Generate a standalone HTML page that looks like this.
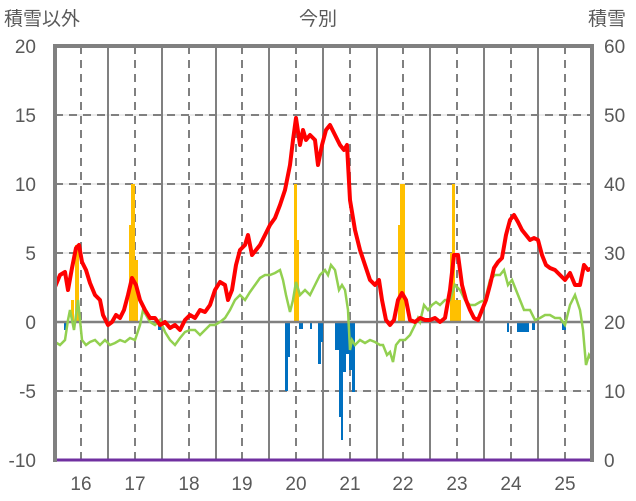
<!DOCTYPE html><html><head><meta charset="utf-8"><style>body{margin:0;background:#fff}svg{display:block}text{font-family:"Liberation Sans","Noto Sans CJK JP",sans-serif;fill:#595959;font-size:19px}</style></head><body>
<svg width="636" height="501" xmlns="http://www.w3.org/2000/svg">
<g stroke="#d9d9d9" stroke-width="1"><line x1="55" y1="115" x2="592" y2="115"/><line x1="55" y1="184" x2="592" y2="184"/><line x1="55" y1="253" x2="592" y2="253"/><line x1="55" y1="391" x2="592" y2="391"/></g>
<g stroke="#808080" stroke-width="2" stroke-dasharray="8,6"><line x1="55" y1="115" x2="592" y2="115"/><line x1="55" y1="184" x2="592" y2="184"/><line x1="55" y1="253" x2="592" y2="253"/><line x1="55" y1="391" x2="592" y2="391"/>
<line x1="81" y1="46" x2="81" y2="460"/><line x1="135" y1="46" x2="135" y2="460"/><line x1="189" y1="46" x2="189" y2="460"/><line x1="242" y1="46" x2="242" y2="460"/><line x1="296" y1="46" x2="296" y2="460"/><line x1="350" y1="46" x2="350" y2="460"/><line x1="403" y1="46" x2="403" y2="460"/><line x1="457" y1="46" x2="457" y2="460"/><line x1="511" y1="46" x2="511" y2="460"/><line x1="565" y1="46" x2="565" y2="460"/></g>
<g stroke="#808080" stroke-width="2"><line x1="108" y1="46" x2="108" y2="460"/><line x1="162" y1="46" x2="162" y2="460"/><line x1="216" y1="46" x2="216" y2="460"/><line x1="269" y1="46" x2="269" y2="460"/><line x1="323" y1="46" x2="323" y2="460"/><line x1="377" y1="46" x2="377" y2="460"/><line x1="430" y1="46" x2="430" y2="460"/><line x1="484" y1="46" x2="484" y2="460"/><line x1="538" y1="46" x2="538" y2="460"/></g>
<g fill="#ffc000"><rect x="75" y="245" width="4" height="77"/><rect x="71" y="300" width="3" height="22"/><rect x="129" y="225" width="3" height="97"/><rect x="131" y="184" width="4" height="138"/><rect x="135" y="260" width="3" height="62"/><rect x="294" y="184" width="3" height="138"/><rect x="297" y="240" width="2" height="82"/><rect x="398" y="225" width="3" height="97"/><rect x="400" y="184" width="5" height="138"/><rect x="450" y="253" width="2" height="69"/><rect x="452" y="184" width="3" height="138"/><rect x="455" y="300" width="6" height="22"/></g>
<g fill="#0070c0"><rect x="64" y="322" width="3" height="8"/><rect x="158" y="322" width="3" height="8"/><rect x="285" y="322" width="3" height="69"/><rect x="288" y="322" width="2" height="35"/><rect x="299" y="322" width="4" height="7"/><rect x="310" y="322" width="2" height="7"/><rect x="318" y="322" width="3" height="42"/><rect x="321" y="322" width="2" height="20"/><rect x="335" y="322" width="5" height="28"/><rect x="339" y="322" width="2" height="95"/><rect x="341" y="322" width="2" height="118"/><rect x="343" y="322" width="3" height="50"/><rect x="346" y="322" width="3" height="32"/><rect x="349" y="322" width="3" height="48"/><rect x="352" y="322" width="3" height="70"/><rect x="507" y="322" width="2" height="10"/><rect x="517" y="322" width="12" height="10"/><rect x="532" y="322" width="3" height="8"/><rect x="562" y="322" width="4" height="8"/></g>
<line x1="55" y1="322" x2="592" y2="322" stroke="#808080" stroke-width="2.5"/>
<polyline fill="none" stroke="#92d050" stroke-width="2.5" points="55,342 60,345 65,340 68,320 70,310 74,330 78,300 82,340 86,345 90,342 95,340 100,345 105,340 110,345 115,343 120,340 125,342 130,338 135,340 140,325 143,310 146,315 150,322 155,325 160,320 165,332 170,340 175,345 180,338 185,332 190,330 195,330 200,335 205,330 210,325 215,325 220,322 225,318 230,310 235,300 240,295 245,300 250,292 255,285 260,278 265,275 270,275 275,273 280,270 283,280 286,295 290,312 293,300 296,282 300,295 305,290 310,295 315,285 320,275 325,270 328,275 331,265 335,270 339,290 342,285 345,290 348,310 350,350 352,340 355,345 360,340 365,343 370,340 375,342 380,345 383,345 387,355 390,352 393,362 396,345 400,340 405,340 410,335 415,325 418,318 420,322 424,305 428,310 432,305 436,302 440,305 445,300 450,300 455,285 460,290 465,300 470,305 475,305 480,302 485,300 490,280 495,275 500,275 504,270 508,285 512,280 516,290 520,300 524,310 530,310 535,320 540,318 545,315 550,315 555,318 560,318 565,325 570,305 575,295 580,310 583,330 586,365 589,355 592,360"/>
<polyline fill="none" stroke="#ff0000" stroke-width="4" stroke-linejoin="round" points="55,287 60,275 65,272 68,290 72,268 76,248 79,245 82,262 86,270 90,283 95,295 100,300 103,315 108,325 112,322 116,315 120,318 124,310 128,295 132,278 136,285 140,300 145,310 150,318 155,318 160,325 165,322 170,328 175,325 180,330 185,320 190,315 195,318 200,310 205,312 210,305 215,290 220,282 225,285 228,300 232,290 236,265 240,250 245,245 248,235 252,255 256,250 260,245 265,235 270,225 275,218 280,205 285,190 290,165 293,140 296,118 300,145 303,130 306,140 310,135 315,140 318,165 322,145 326,130 330,125 335,135 340,145 344,150 347,145 350,200 355,230 360,250 365,265 370,280 375,285 379,280 382,300 386,320 390,325 394,320 398,300 402,293 406,300 410,320 415,322 420,318 425,320 430,320 435,318 440,322 445,318 450,290 454,255 458,255 462,285 466,300 470,310 474,318 478,320 482,310 486,300 490,285 494,268 498,262 502,258 506,235 510,220 514,215 518,222 522,230 526,235 530,240 534,238 538,240 542,255 546,265 550,268 555,270 560,275 565,280 570,273 575,285 580,285 584,265 588,270 592,268"/>
<line x1="55" y1="460" x2="594" y2="460" stroke="#7030a0" stroke-width="3"/>
<path d="M55,462 V46 H592 V462" fill="none" stroke="#808080" stroke-width="4"/>
<g text-anchor="end"><text x="36" y="53">20</text><text x="36" y="122">15</text><text x="36" y="191">10</text><text x="36" y="260">5</text><text x="36" y="329">0</text><text x="36" y="398">-5</text><text x="36" y="467">-10</text></g>
<g><text x="604" y="53">60</text><text x="604" y="122">50</text><text x="604" y="191">40</text><text x="604" y="260">30</text><text x="604" y="329">20</text><text x="604" y="398">10</text><text x="604" y="467">0</text></g>
<g text-anchor="middle"><text x="81" y="490">16</text><text x="135" y="490">17</text><text x="189" y="490">18</text><text x="242" y="490">19</text><text x="296" y="490">20</text><text x="350" y="490">21</text><text x="403" y="490">22</text><text x="457" y="490">23</text><text x="511" y="490">24</text><text x="565" y="490">25</text></g>
<text x="4" y="25">積雪以外</text><text x="318" y="25" text-anchor="middle">今別</text><text x="588" y="25">積雪</text>
</svg></body></html>
